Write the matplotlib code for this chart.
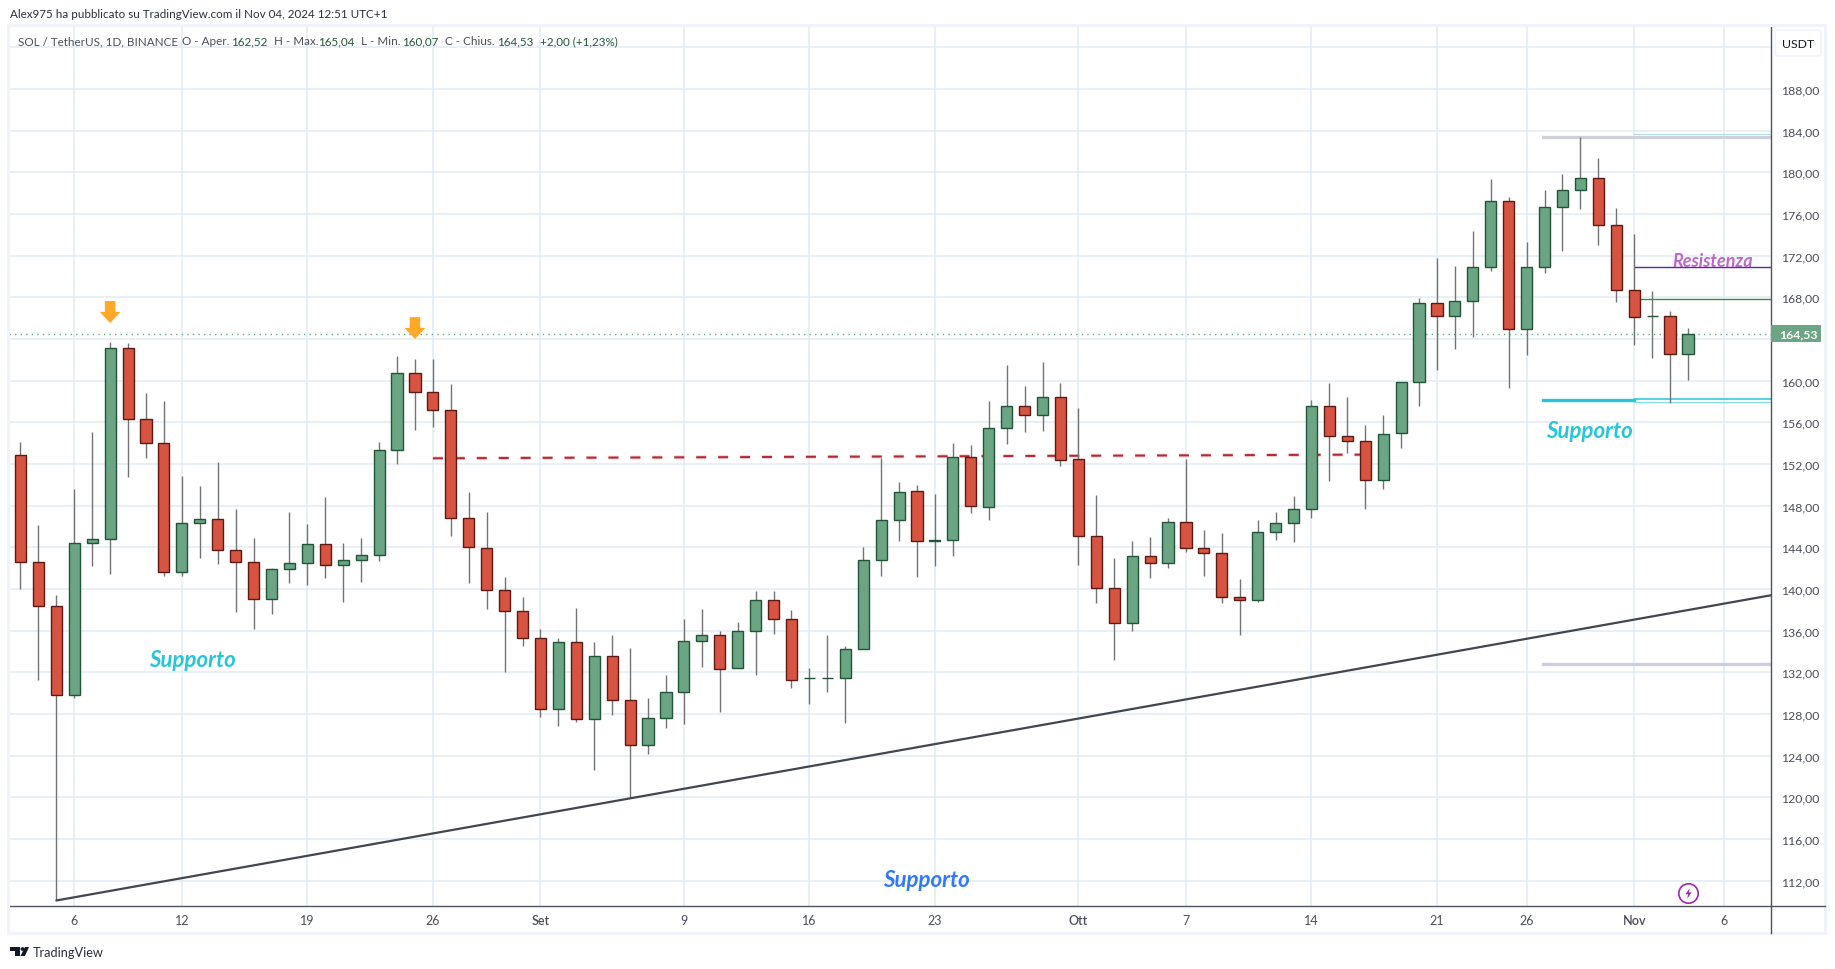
import matplotlib
matplotlib.use('Agg')
import matplotlib.pyplot as plt
import numpy as np
from matplotlib.patches import Rectangle, FancyBboxPatch, Polygon, Circle
from matplotlib.path import Path
from matplotlib.transforms import Affine2D, blended_transform_factory

# SOL / USDT daily candles, 3 Aug - 4 Nov 2024
opens = [152.83, 142.56, 138.34, 129.8, 144.38, 144.77, 163.1, 156.29, 153.98, 141.6,
         146.3, 146.69, 143.71, 142.56, 139.0, 141.89, 142.46, 144.29, 142.27, 142.75,
         143.23, 153.3, 160.7, 158.88, 157.15, 146.78, 143.97, 139.94, 137.92, 135.33,
         128.51, 134.94, 127.55, 133.6, 129.38, 125.06, 127.65, 130.14, 135.04, 135.62,
         132.45, 136.0, 138.98, 137.15, 131.49, 131.49, 131.49, 134.27, 142.82, 146.66,
         149.44, 144.6, 144.74, 152.7, 147.9, 155.49, 157.6, 156.74, 158.46, 152.51,
         145.12, 140.13, 136.77, 143.2, 142.53, 146.46, 143.97, 143.49, 139.26, 138.98,
         145.5, 146.37, 147.71, 157.6, 154.72, 154.24, 150.5, 154.94, 159.84, 167.42,
         166.18, 167.62, 170.88, 177.22, 164.93, 170.88, 176.64, 178.27, 179.42, 174.91,
         168.67, 166.18, 166.18, 162.52]
highs = [154.08, 146.14, 139.4, 149.6, 155.07, 163.7, 163.6, 158.8, 158.05, 150.85,
         149.89, 152.19, 147.68, 144.9, 142.0, 147.39, 146.24, 148.83, 144.42, 144.9,
         154.08, 162.37, 162.08, 162.08, 159.68, 149.31, 147.36, 141.12, 139.2, 136.13,
         135.33, 138.14, 134.94, 135.55, 134.3, 129.5, 131.7, 137.09, 138.05, 135.94,
         136.8, 139.78, 139.78, 137.95, 132.38, 135.55, 134.5, 144.0, 152.54, 150.24,
         149.95, 149.09, 153.98, 153.86, 158.02, 161.47, 159.46, 161.76, 159.74, 157.34,
         148.99, 142.94, 144.58, 144.96, 146.78, 152.45, 145.63, 145.34, 140.93, 146.59,
         147.36, 148.9, 158.11, 159.74, 158.4, 155.71, 156.67, 159.87, 167.94, 171.78,
         171.0, 174.37, 179.36, 177.6, 173.31, 178.3, 179.84, 183.36, 181.38, 176.58,
         174.08, 168.61, 166.69, 165.04]
lows = [140.03, 131.3, 110.1, 129.5, 142.24, 141.47, 150.8, 152.6, 141.28, 141.28,
        143.0, 142.43, 137.8, 136.2, 137.6, 140.6, 140.42, 141.09, 138.8, 140.7,
        142.72, 152.03, 155.3, 155.58, 145.12, 140.6, 138.08, 132.03, 134.53, 127.71,
        126.85, 127.23, 122.62, 127.9, 119.94, 124.16, 126.66, 127.04, 132.51, 128.19,
        132.45, 131.74, 135.68, 130.5, 128.96, 130.11, 127.14, 134.27, 141.25, 144.61,
        141.15, 142.21, 143.17, 147.3, 146.59, 153.92, 155.07, 155.17, 151.81, 142.3,
        138.66, 133.2, 135.97, 141.06, 142.02, 143.55, 141.25, 138.66, 135.62, 138.75,
        144.7, 144.51, 146.78, 150.37, 153.02, 147.68, 149.57, 153.5, 157.6, 161.06,
        163.07, 164.22, 170.56, 159.26, 162.5, 170.37, 172.48, 176.51, 173.06, 167.58,
        163.46, 162.21, 157.89, 160.07]
closes = [142.56, 138.34, 129.8, 144.38, 144.77, 163.1, 156.29, 153.98, 141.6, 146.3,
          146.69, 143.71, 142.56, 139.0, 141.89, 142.46, 144.29, 142.27, 142.75, 143.23,
          153.3, 160.7, 158.88, 157.15, 146.78, 144.0, 139.94, 137.92, 135.33, 128.51,
          134.94, 127.55, 133.6, 129.38, 125.06, 127.65, 130.14, 135.04, 135.62, 132.35,
          136.0, 138.98, 137.15, 131.3, 131.49, 131.49, 134.27, 142.82, 146.66, 149.34,
          144.64, 144.72, 152.7, 148.0, 155.49, 157.6, 156.74, 158.46, 152.42, 145.12,
          140.13, 136.77, 143.2, 142.53, 146.46, 143.97, 143.49, 139.26, 138.98, 145.5,
          146.37, 147.71, 157.6, 154.72, 154.24, 150.5, 154.91, 159.87, 167.42, 166.18,
          167.62, 170.88, 177.22, 164.93, 170.88, 176.64, 178.27, 179.42, 174.91, 168.67,
          166.08, 166.18, 162.53, 164.53]

date_ticks = [3, 9, 16, 23, 29, 37, 44, 51, 59, 65, 72, 79, 84, 90, 95]
date_labels = ['6', '12', '19', '26', 'Set', '9', '16', '23', 'Ott', '7', '14', '21', '26', 'Nov', '6']
month_labels = ['Set', 'Ott', 'Nov']
price_ticks = np.arange(112, 192, 4)
last_price = 164.53

trend_x = [2, 97.63]
trend_y = [110.1, 139.4]
dashed_x = [23, 75]
dashed_y = [152.55, 152.9]
arrows = [(5, 165.54, 167.65), (22, 164.0, 166.1)]

GREEN, GREEN_EDGE = '#6BA583', '#225437'
RED, RED_EDGE = '#D75442', '#5B1A13'
WICK = '#737375'
GRID = '#E3ECF2'
FRAME = '#F0F3FA'
AXIS = '#50535E'
TEXT = '#4A4D57'
CYAN = '#26C6DA'

plt.rcParams['font.family'] = ['Lato', 'DejaVu Sans']
W, H = 1835, 970
fig = plt.figure(figsize=(W / 100, H / 100), dpi=100)
ax = fig.add_axes([9 / W, 1 - 907 / H, (1771 - 9) / W, (907 - 27) / H])
pix = Affine2D().scale(1 / W, -1 / H).translate(0, 1) + fig.transFigure

ax.set_xlim(-0.641, 97.63)
ax.set_ylim(109.57, 194.05)
for side in ['top', 'left']:
    ax.spines[side].set_visible(False)
ax.spines['bottom'].set_color(AXIS)
ax.spines['right'].set_color(AXIS)
ax.spines['bottom'].set_linewidth(1)
ax.spines['right'].set_linewidth(1)

ax.yaxis.tick_right()
ax.set_yticks(price_ticks)
# the 164 label sits under the price tag in the original
ax.set_yticklabels(['' if p == 164 else '%d,00' % p for p in price_ticks])
ax.set_xticks(date_ticks)
ax.set_xticklabels(date_labels)
ax.tick_params(axis='y', length=0, pad=7, labelsize=8.8, labelcolor=TEXT)
ax.tick_params(axis='x', length=0, pad=5.5, labelsize=9, labelcolor=TEXT)
for lab in ax.get_xticklabels():
    if lab.get_text() in month_labels:
        lab.set_fontweight('semibold')
ax.grid(color=GRID, linewidth=1.1)
ax.set_axisbelow(True)
# the 192 line runs under the legend row
ax.axhline(192, color=GRID, linewidth=1.1, zorder=0.5)

# drawings behind the candles
ax.plot(dashed_x, dashed_y, color='#F0C4CA', lw=2.6, dashes=(7.2 / 2.6, 8.6 / 2.6), zorder=1.2)
ax.plot(dashed_x, dashed_y, color='#B22833', lw=1.4, dashes=(7.2 / 1.4, 8.6 / 1.4), zorder=1.3)
ax.axhline(last_price, color=GREEN, lw=1, ls=(0, (1, 3)), zorder=1.4)

x = np.arange(len(opens))
o, h, l, c = map(np.array, (opens, highs, lows, closes))
up = c >= o
ax.vlines(x, l, h, color=WICK, lw=1.0, zorder=2)
ax.bar(x[up], (c - o)[up], bottom=o[up], width=0.62, color=GREEN, edgecolor=GREEN_EDGE, linewidth=1, zorder=3)
ax.bar(x[~up], (o - c)[~up], bottom=c[~up], width=0.62, color=RED, edgecolor=RED_EDGE, linewidth=1, zorder=3)

ax.plot(trend_x, trend_y, color='#434651', lw=1.6, zorder=4, solid_capstyle='round', clip_on=False)

# levels on the right
ax.plot([84.9, 97.63], [183.36, 183.36], color='#CED0DA', lw=2.4, zorder=1.5)
ax.plot([90, 97.63], [183.65, 183.65], color='#B2DFE3', lw=0.8, zorder=1.5)
ax.plot([84.9, 90], [158.14, 158.14], color=CYAN, lw=2.4, zorder=1.5)
ax.plot([90, 97.63], [158.22, 158.22], color=CYAN, lw=1.1, zorder=1.5)
ax.plot([90, 97.63], [158.0, 158.0], color='#80DEEA', lw=0.9, zorder=1.5)
ax.plot([84.9, 97.63], [132.83, 132.83], color='#CFCDE2', lw=2.4, zorder=1.5)
ax.plot([90.05, 97.63], [170.88, 170.88], color='#512DA8', lw=1, zorder=1.5)
ax.plot([90.3, 97.63], [167.81, 167.81], color='#388E3C', lw=1, zorder=1.5)

for ax_x, tip, top in arrows:
    ax.annotate('', xy=(ax_x, tip), xytext=(ax_x, top), zorder=5,
                arrowprops=dict(width=7.6, headwidth=15, headlength=8, shrink=0,
                                color='#FFA726', linewidth=0))

note = dict(style='italic', fontweight='bold', ha='center', va='center', zorder=6)
ax.text(9.57, 133.27, 'Supporto', color=CYAN, fontsize=16, **note)
ax.text(87.5, 155.2, 'Supporto', color=CYAN, fontsize=16, **note)
ax.text(50.55, 112.16, 'Supporto', color='#3179F5', fontsize=16, **note)
ax.text(94.4, 171.5, 'Resistenza', color='#BA68C8', fontsize=13, **note)

# flash marker near the last candle
bolt = Path([(0.25, 1), (-0.55, -0.15), (-0.05, -0.15), (-0.25, -1), (0.55, 0.2), (0.05, 0.2), (0.25, 1)])
ax.plot([93], [110.82], marker='o', ms=14, mfc='white', mec='#9C27B0', mew=1.2, zorder=6, clip_on=False)
ax.plot([93], [110.82], marker=bolt, ms=8, mfc='#9C27B0', mec='none', zorder=7)

# current price tag
tag_tr = blended_transform_factory(ax.transAxes, ax.transData)
ax.add_patch(Rectangle((1.0, last_price - 0.8), 50 / 1762, 1.6, transform=tag_tr, fc=GREEN, ec='none',
                       clip_on=False, zorder=8))
ax.text(1 + 27 / 1762, last_price, '164,53', transform=tag_tr, color='white', fontweight='bold',
        fontsize=8.8, ha='center', va='center', zorder=9)

# frame and scale lines
fig.add_artist(Rectangle((8, 26), 1817, 908, transform=pix, fc='none', ec=FRAME, lw=2.2))
fig.add_artist(plt.Line2D([1771, 1771], [907, 934], transform=pix, color=AXIS, lw=1))
fig.add_artist(plt.Line2D([1771, 1825], [907, 907], transform=pix, color=AXIS, lw=1))
fig.add_artist(FancyBboxPatch((1778, 34), 40, 20, boxstyle='round,pad=3', transform=pix, fc='white', ec=FRAME, lw=1.2))
fig.text(1798 / W, 1 - 44.5 / H, 'USDT', color='#131722', fontsize=8.8, ha='center', va='center')

# header rows
fig.text(10 / W, 1 - 15 / H, 'Alex975 ha pubblicato su TradingView.com il Nov 04, 2024 12:51 UTC+1',
         color='#2A2E39', fontsize=8.4, ha='left', va='center')
legend_row = [(18, 'SOL / TetherUS, 1D, BINANCE', TEXT), (182.4, 'O - Aper.', TEXT), (230.6, '162,52', GREEN_EDGE),
              (273.5, 'H - Max.', TEXT), (318.4, '165,04', GREEN_EDGE), (361, 'L - Min.', TEXT),
              (402, '160,07', GREEN_EDGE), (445, 'C - Chius.', TEXT), (496.7, '164,53', GREEN_EDGE),
              (540, '+2,00 (+1,23%)', GREEN_EDGE)]
for px, s, col in legend_row:
    fig.text(px / W, 1 - 41.5 / H, s, color=col, fontsize=8.4, ha='left', va='center')

# logo and footer
fig.add_artist(Polygon([(10, 948), (20, 948), (20, 957), (15, 957), (15, 952), (10, 952)], transform=pix,
                       fc='#131722', ec='none'))
fig.add_artist(Circle((22.5, 950), 1.9, transform=pix, fc='#131722', ec='none'))
fig.add_artist(Polygon([(25, 948), (29, 948), (25, 957), (20.5, 957)], transform=pix, fc='#131722', ec='none'))
fig.text(33 / W, 1 - 952.7 / H, 'TradingView', color='#2A2E39', fontsize=9.2, ha='left', va='center')

fig.savefig('out.png', dpi=100)
